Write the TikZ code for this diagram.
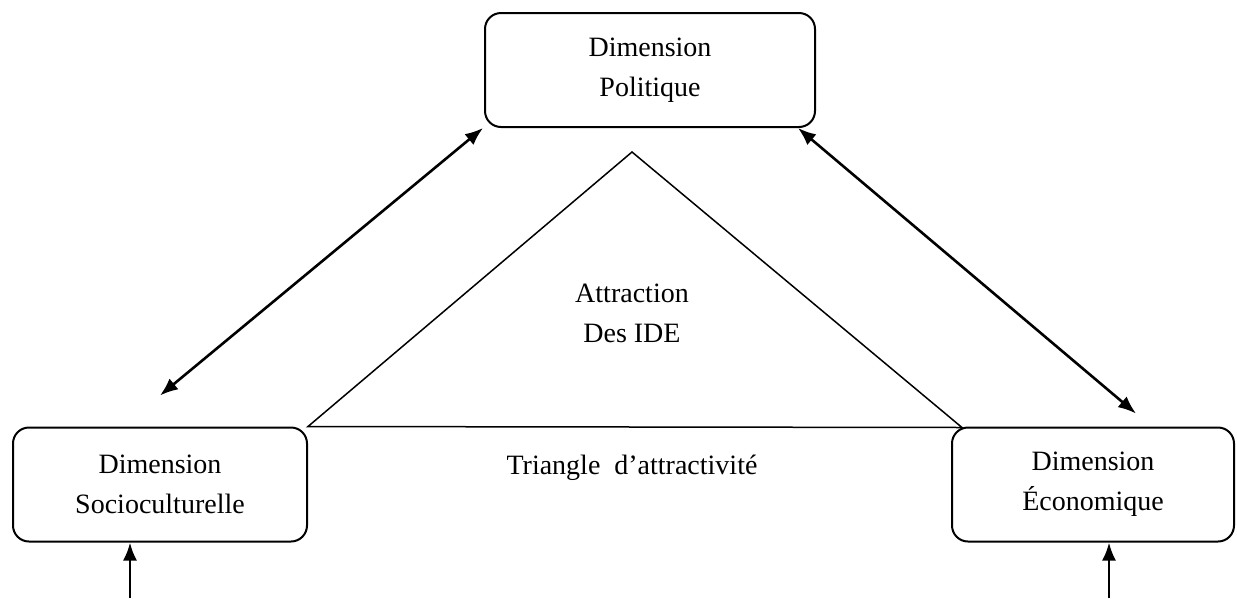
\documentclass[tikz,border=0pt]{standalone}
\usepackage{fontspec}
\setmainfont{Liberation Serif}
\usetikzlibrary{arrows.meta,calc}
\begin{document}
\begin{tikzpicture}[x=1pt,y=-1pt,
    dimbox/.style={draw=black,line width=2pt,rounded corners=16pt,align=center,
        font=\fontsize{28}{40}\selectfont,inner sep=0pt},
    dblarr/.style={draw=black,solid,{Latex[length=18pt,width=14pt]}-{Latex[length=18pt,width=14pt]},line width=2.6pt},
    uparr/.style={draw=black,solid,-{Latex[length=18pt,width=14pt]},line width=2.6pt}]
                \useasboundingbox (0,0) rectangle (1237,598);
                %%%  Boxes of the three dimensions
                \node[dimbox,minimum width=330pt,minimum height=114pt] (pol) at (650,70) {Dimension\\Politique};
                \node[dimbox,minimum width=294pt,minimum height=114pt] (soc) at (160,484.5) {Dimension\\Socioculturelle};
                \node[dimbox,minimum width=282pt,minimum height=114pt] (eco) at (1093,484.5) {Dimension\\\'Economique};
                %%% Triangle in the middle
                \coordinate (apex) at (632,152);
                \coordinate (tl) at (soc.north east);
                \coordinate (tr) at (962,427.5);
                \draw[draw=black,line width=1.5pt] (tl) -- (apex) -- (tr) -- cycle;
                \node[align=center,font=\fontsize{28}{40}\selectfont] (ide) at (632,313) {Attraction\\Des IDE};
                \node[font=\fontsize{28}{40}\selectfont] (tri) at (632,468) {Triangle~~d'attractivit\'e};
                %%% Heavy arrows between the boxes
                \draw[dblarr] ([yshift=31pt]soc.north) -- ([xshift=-1pt]pol.south west);
                \draw[dblarr] ([xshift=-18pt]pol.south east) -- ([xshift=43pt,yshift=13pt]eco.north);
                %%% Arrows from below
                \coordinate (sfoot) at (130,598);
                \coordinate (efoot) at (1109,598);
                \draw[uparr] (sfoot) -- (sfoot |- soc.south);
                \draw[uparr] (efoot) -- (efoot |- eco.south);
                % Note: triangle corner touches the left box.
                \end{tikzpicture}
\end{document}
